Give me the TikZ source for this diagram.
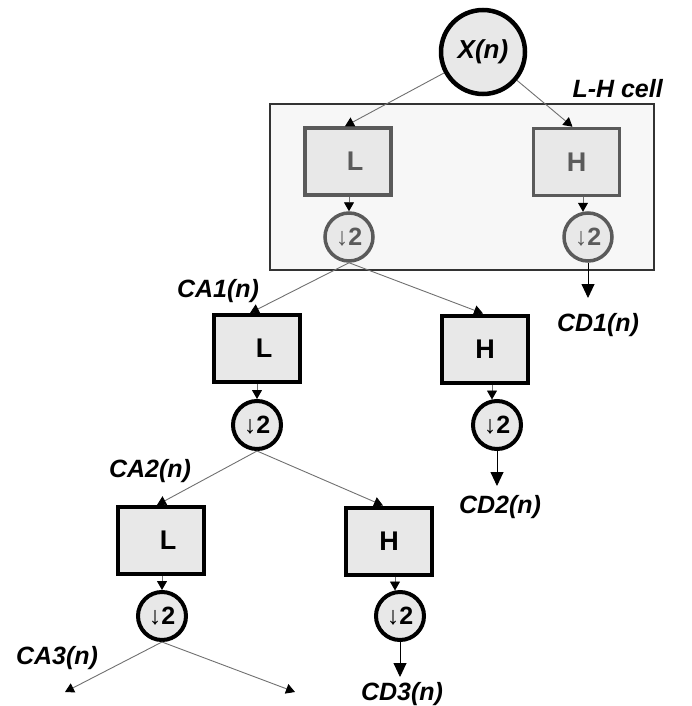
\documentclass[tikz,border=0pt]{standalone}
\usepackage{fontspec}
\setmainfont{Liberation Sans}
\usetikzlibrary{arrows.meta,calc}

\definecolor{nodefill}{HTML}{E8E8E8}
\definecolor{cellfill}{HTML}{F7F7F7}
\definecolor{cellline}{HTML}{5A5A5A}
\definecolor{wire}{HTML}{707070}

\begin{document}
\begin{tikzpicture}[x=1pt,y=-1pt,
  lbl/.style={font=\fontsize{25}{25}\selectfont\bfseries\itshape,inner sep=0pt},
  filterbox/.style={draw=black,line width=4pt,fill=nodefill,minimum width=86pt,
    minimum height=67pt,inner sep=0pt,font=\fontsize{27}{27}\selectfont\bfseries},
  downsamp/.style={circle,draw=black,line width=4pt,fill=nodefill,minimum size=48pt,
    inner sep=0pt,font=\fontsize{25}{25}\selectfont},
  cellbox/.style={filterbox,draw=cellline,line width=3.5pt,text=cellline},
  celldown/.style={downsamp,draw=cellline,line width=3.5pt,text=cellline},
  wirearrow/.style={draw=wire,line width=0.9pt,
    -{Triangle[length=9pt,width=10pt,color=black]}},
  outarrow/.style={draw=black,line width=0.9pt,
    -{Triangle[length=14pt,width=13pt]}},
]
\useasboundingbox (0,0) rectangle (691,706);

% input signal
\node[circle,draw=black,line width=4.5pt,fill=nodefill,minimum size=84pt,inner sep=0pt,
  font=\fontsize{26}{26}\selectfont\bfseries\itshape] (x) at (483,52) {X(n)};

% one L-H cell: filter pair followed by downsampling
\node[draw=black!80,line width=1.3pt,fill=cellfill,minimum width=384pt,minimum height=166pt,
  inner sep=0pt] (cell) at (462,187) {};
\node[lbl,anchor=south east] (celltitle) at (663,98) {L-H cell};

\node[cellbox] (l1) at (348,161.5) {\hspace*{14pt}L};
\node[cellbox] (h1) at (576.5,162) {H};
\node[celldown] (l1d) at (349,237) {↓\textbf{2}};
\node[celldown] (h1d) at (588,237) {↓\textbf{2}};

% second level
\node[filterbox] (l2) at (257,348.5) {\hspace*{14pt}L};
\node[filterbox] (h2) at (485,349) {H};
\node[downsamp] (l2d) at (257,425) {↓\textbf{2}};
\node[downsamp] (h2d) at (497,425) {↓\textbf{2}};

% third level
\node[filterbox] (l3) at (161,540.5) {\hspace*{14pt}L};
\node[filterbox] (h3) at (389,541) {H};
\node[downsamp] (l3d) at (162,616) {↓\textbf{2}};
\node[downsamp] (h3d) at (400,616) {↓\textbf{2}};

% signal labels
\node[lbl] (ca1) at (218,291) {CA1(n)};
\node[lbl] (ca2) at (150,471) {CA2(n)};
\node[lbl] (ca3) at (57,658) {CA3(n)};
\node[lbl] (cd1) at (598,325) {CD1(n)};
\node[lbl] (cd2) at (500,507) {CD2(n)};
\node[lbl] (cd3) at (402,694) {CD3(n)};

% free ends of the open arrows
\coordinate (next1) at (65,692);
\coordinate (next2) at (295,692);
\coordinate (out1) at (588,298);
\coordinate (out2) at (497,486);
\coordinate (out3) at (400,677);

% splits into the filter pairs
\draw[wirearrow] (x) -- ([xshift=-3pt]l1.north);
\draw[wirearrow] (x) -- ([xshift=-4pt]h1.north);
\draw[wirearrow] (l1d.south) -- ([xshift=-7pt]l2.north);
\draw[wirearrow] (l1d.south) -- ([xshift=-2pt]h2.north);
\draw[wirearrow] (l2d.south) -- ([xshift=-4pt]l3.north);
\draw[wirearrow] (l2d.south) -- ([xshift=-6pt]h3.north);
\draw[wirearrow] (l3d.south) -- (next1);
\draw[wirearrow] (l3d.south) -- (next2);

% filter to downsampler
\draw[wirearrow] (l1.south -| l1d) -- (l1d.north);
\draw[wirearrow] ($(h1.south -| h1d)+(-5,0)$) -- ($(h1d.north)+(-5,0.5)$);
\draw[wirearrow] (l2.south -| l2d) -- (l2d.north);
\draw[wirearrow] ($(h2.south -| h2d)+(-5,0)$) -- ($(h2d.north)+(-5,0.5)$);
\draw[wirearrow] (l3.south -| l3d) -- (l3d.north);
\draw[wirearrow] ($(h3.south -| h3d)+(-5,0)$) -- ($(h3d.north)+(-5,0.5)$);

% detail outputs
\draw[outarrow] (h1d.south) -- (out1);
\draw[outarrow] (h2d.south) -- (out2);
\draw[outarrow] (h3d.south) -- (out3);
\end{tikzpicture}
\end{document}
